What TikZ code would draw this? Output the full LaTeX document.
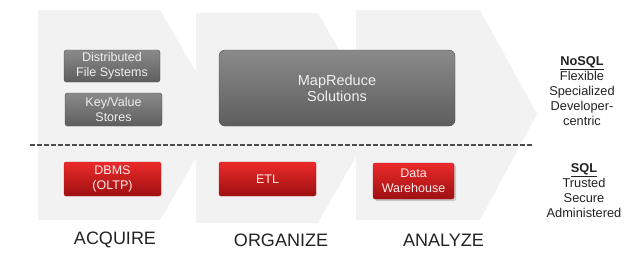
\documentclass[tikz,border=0pt]{standalone}
\usepackage{fontspec}
\setmainfont{Liberation Sans}
\usetikzlibrary{shadows}
\definecolor{chev}{HTML}{F2F2F2}
\definecolor{gtop}{HTML}{8A8A8A}
\definecolor{gbot}{HTML}{5E5E5E}
\definecolor{rtop}{HTML}{EC2A2A}
\definecolor{rbot}{HTML}{9E1012}
\definecolor{txt}{HTML}{222222}
\tikzset{
  chevron/.style={fill=chev, draw=none},
  graybox/.style={rectangle, rounded corners=2.5pt, top color=gtop, bottom color=gbot, draw=gbot!80!black, line width=0.4pt,
    text=white!94!black, align=center, inner sep=0pt, font=\fontsize{12.5}{15}\selectfont},
  redbox/.style={rectangle, rounded corners=2pt, top color=rtop, bottom color=rbot, draw=rbot!70!rtop, line width=0.3pt,
    text=white!92!red, align=center, inner sep=0pt, font=\fontsize{12.5}{14.5}\selectfont},
  stage/.style={text=txt, font=\fontsize{18}{20}\selectfont, inner sep=0pt},
  sidetext/.style={text=txt, align=center, font=\fontsize{12.8}{15}\selectfont, inner sep=0pt},
  divider/.style={draw=black!70, line width=2pt, dash pattern=on 5pt off 2pt}
}
\begin{document}
\begin{tikzpicture}[x=1pt,y=-1pt]
\useasboundingbox (0,0) rectangle (640,263);
% chevrons
\fill[chevron] (38,10) -- (160,10) -- (221,115) -- (160,220) -- (38,220) -- cycle;
\fill[chevron] (196,13) -- (318,13) -- (378,118) -- (318,223) -- (196,223) -- cycle;
\fill[chevron] (356,10) -- (480,10) -- (537,114) -- (480,220) -- (356,220) -- cycle;
% divider
\coordinate (dl) at (30,145);
\coordinate (dr) at (533,145);
\draw[divider] (dl) -- (dr);
% NoSQL boxes
\node[graybox, minimum width=96pt, minimum height=32pt] (dfs) at (112,66) {Distributed\\File Systems};
\node[graybox, minimum width=97pt, minimum height=33pt] (kv) at (113.5,109.5) {Key/Value\\Stores};
\node[graybox, rounded corners=6pt, minimum width=236pt, minimum height=76pt, font=\fontsize{14.5}{16}\selectfont] (mr) at (337,88) {MapReduce\\Solutions};
% SQL boxes
\node[redbox, minimum width=97pt, minimum height=34pt] (dbms) at (112.5,179) {DBMS\\(OLTP)};
\node[redbox, minimum width=97pt, minimum height=34pt] (etl) at (267.5,179) {ETL};
\node[redbox, minimum width=81pt, minimum height=36pt, drop shadow={opacity=0.35, shadow xshift=2pt, shadow yshift=-2pt}] (dw) at (413.5,181) {Data\\Warehouse};
% stage labels
\node[stage] (acq) at (115,240) {ACQUIRE};
\node[stage] (org) at (281,240) {ORGANIZE};
\node[stage] (ana) at (443.5,240) {ANALYZE};
% side texts
\node[sidetext] (nosql) at (582,91) {\textbf{\underline{NoSQL}}\\Flexible\\Specialized\\Developer-\\centric};
\node[sidetext] (sql) at (584,190.5) {\textbf{\underline{SQL}}\\Trusted\\Secure\\Administered};
\end{tikzpicture}
\end{document}
